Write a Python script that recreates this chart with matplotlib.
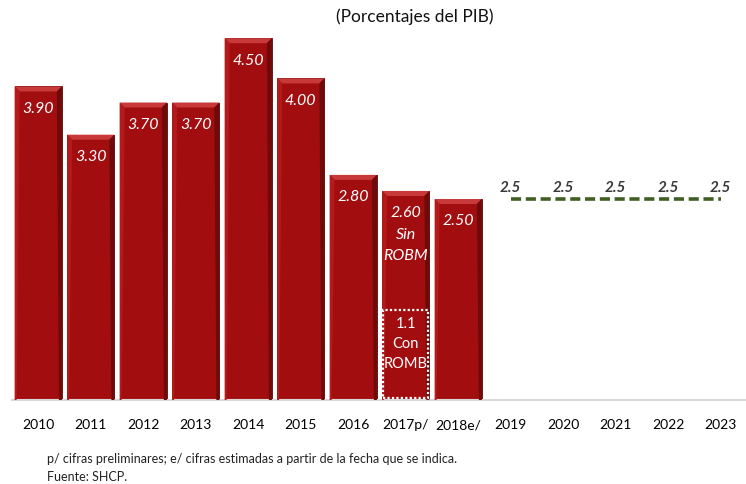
import matplotlib
matplotlib.use("Agg")
import matplotlib.pyplot as plt
from matplotlib.patches import Polygon, Rectangle

plt.rcParams['font.family'] = ['Lato', 'DejaVu Sans']

categories = ["2010", "2011", "2012", "2013", "2014", "2015", "2016", "2017p/", "2018e/",
              "2019", "2020", "2021", "2022", "2023"]
bar_values = [3.90, 3.30, 3.70, 3.70, 4.50, 4.00, 2.80, 2.60, 2.50]
bar_labels = ["3.90", "3.30", "3.70", "3.70", "4.50", "4.00", "2.80", "2.60\nSin\nROBM", "2.50"]
romb_value = 1.1
romb_label = "1.1\nCon\nROMB"
target_years = ["2019", "2020", "2021", "2022", "2023"]
target_values = [2.5, 2.5, 2.5, 2.5, 2.5]
title = "(Porcentajes del PIB)"
footnote = "p/ cifras preliminares; e/ cifras estimadas a partir de la fecha que se indica.\nFuente: SHCP."

W, H = 746, 485
fig = plt.figure(figsize=(W / 100, H / 100), dpi=100)
ax = fig.add_axes([12 / W, 1 - 401 / H, 735 / W, 371 / H])
x = list(range(len(categories)))
ax.set_xlim(-0.5, len(categories) - 0.5)
ax.set_ylim(0, 371 / 80.4)

bars = ax.bar(x[:len(bar_values)], bar_values, width=0.9, color="#A20E10",
              edgecolor="#5A0808", linewidth=0.6, zorder=2)

# pixel -> data size conversion for the bevel effect
inv = ax.transData.inverted()
o = inv.transform((0, 0))
p = inv.transform((1, 1))
px_x, px_y = p[0] - o[0], p[1] - o[1]

for b in bars:
    x0, x1 = b.get_x(), b.get_x() + b.get_width()
    y0, y1 = 0, b.get_height()
    bx, by = 5 * px_x, 5 * px_y
    top = Polygon([(x0, y1), (x1, y1), (x1 - bx, y1 - by), (x0 + bx, y1 - by)],
                  closed=True, facecolor="#C83A3A", edgecolor="none", zorder=3)
    right = Polygon([(x1, y1), (x1, y0), (x1 - 3 * px_x, y0), (x1 - bx, y1 - by)],
                    closed=True, facecolor="#6E0A0A", edgecolor="none", zorder=3)
    left = Polygon([(x0, y1), (x0, y0), (x0 + 2 * px_x, y0), (x0 + bx, y1 - by)],
                   closed=True, facecolor="#B51A1A", edgecolor="none", zorder=3)
    for pp in (top, right, left):
        ax.add_patch(pp)

# value labels
for i, (v, lab) in enumerate(zip(bar_values, bar_labels)):
    ax.text(i, v - 0.18, lab, ha="center", va="top", color="white", fontsize=11.5,
            style="italic", linespacing=1.65, zorder=5)

# dotted box for ROMB within 2017
i17 = categories.index("2017p/")
ax.add_patch(Rectangle((i17 - 0.43, 0.02), 0.86, romb_value, fill=False, edgecolor="white",
                       linestyle=(0, (1, 1)), linewidth=1.6, zorder=4))
ax.text(i17, romb_value - 0.06, romb_label, ha="center", va="top", color="white",
        fontsize=10.5, linespacing=1.55, zorder=5)

# dashed target line
tx = [categories.index(c) for c in target_years]
ax.plot(tx, target_values, color="#3F5F24", linewidth=2.6, linestyle=(0, (2.8, 1.3)),
        solid_capstyle="butt", zorder=3)
for xi, v in zip(tx, target_values):
    ax.text(xi, v + 0.06, f"{v:g}", ha="center", va="bottom", color="#3A3A3A", fontsize=11,
            style="italic", fontweight="bold", zorder=4)

ax.set_xticks(x)
ax.set_xticklabels(categories, fontsize=10, color="black")
ax.tick_params(axis="x", length=0, pad=13)
ax.set_yticks([])
for s in ["top", "left", "right"]:
    ax.spines[s].set_visible(False)
ax.spines["bottom"].set_color("#D9D9D9")
ax.spines["bottom"].set_linewidth(1.5)

fig.text(415 / W, 1 - 17 / H, title, ha="center", va="center", fontsize=12.5, color="#111111")
fig.text(47 / W, 1 - 453 / H, footnote, ha="left", va="top", fontsize=9, color="#222222",
         linespacing=1.6)

fig.savefig("out.png", dpi=100, facecolor="white")
